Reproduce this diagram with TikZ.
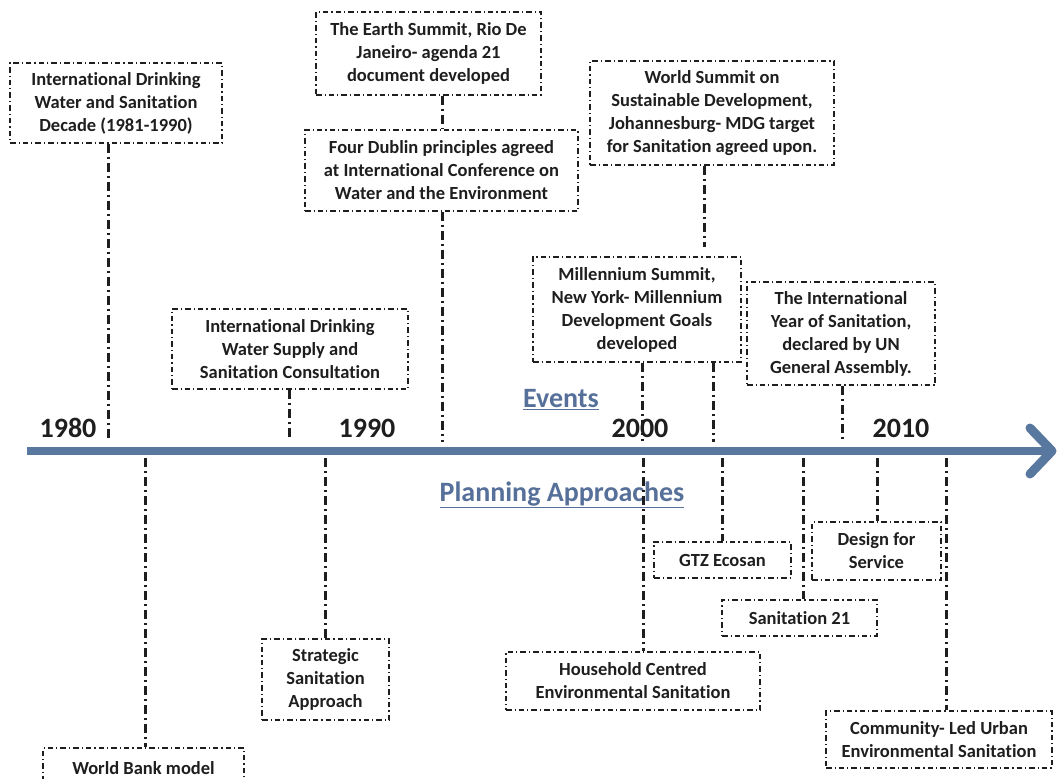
\documentclass[tikz,border=0pt]{standalone}
\usepackage{fontspec}
\setmainfont{Carlito}[RawFeature={-liga;-clig;-calt;-dlig}]
\definecolor{axisblue}{HTML}{5878A0}
\definecolor{headblue}{HTML}{56709A}
\definecolor{txt}{HTML}{1E1E1E}
\begin{document}
\begin{tikzpicture}[x=1pt,y=-1pt,
  box/.style={draw=txt, line width=1.1pt, dash pattern=on 5.5pt off 3pt on 1.2pt off 3pt,
    align=center, inner sep=0pt, text=txt, font=\bfseries\fontsize{18.5}{23}\selectfont},
  conn/.style={draw=txt, line width=3pt, dash pattern=on 9pt off 4pt on 2pt off 4pt},
  year/.style={text=txt, font=\bfseries\fontsize{28}{30}\selectfont, inner sep=0pt},
  head/.style={text=headblue, font=\bfseries\fontsize{28}{30}\selectfont, inner sep=0pt}]
\useasboundingbox (0,0) rectangle (1058,779);
\clip (0,0) rectangle (1058,779);
\fill[white] (0,0) rectangle (1058,779);

% axis
\coordinate (axL) at (27,451);
\coordinate (axR) at (1046,451);
\coordinate (tipU) at (1030,428);
\coordinate (tip) at (1052,451);
\coordinate (tipD) at (1030,474);
\draw[axisblue, line width=8pt] (axL) -- (axR);
\draw[axisblue, line width=9pt, line cap=round, line join=round] (tipU) -- (tip) -- (tipD);

% years
\node[year] (y1980) at (68,428) {1980};
\node[year] (y1990) at (367,428) {1990};
\node[year] (y2000) at (640,428) {2000};
\node[year] (y2010) at (901,428) {2010};
\node[head] (events) at (561,400) {\underline{Events}};
\node[head] (plan) at (562,495) {\underline{Planning Approaches}};

% event boxes
\node[box, minimum width=212pt, minimum height=80pt] (decade) at (116,103)
  {International Drinking\\Water and Sanitation\\Decade (1981-1990)};
\node[box, minimum width=225pt, minimum height=83pt] (earth) at (428.5,53.5)
  {The Earth Summit, Rio De\\Janeiro- agenda 21\\document developed};
\node[box, minimum width=273pt, minimum height=81pt] (dublin) at (441.5,170.5)
  {Four Dublin principles agreed\\at International Conference on\\Water and the Environment};
\node[box, minimum width=244pt, minimum height=104pt] (wssd) at (712,113)
  {World Summit on\\Sustainable Development,\\Johannesburg- MDG target\\for Sanitation agreed upon.};
\node[box, minimum width=208pt, minimum height=105pt] (mill) at (637,309.5)
  {Millennium Summit,\\New York- Millennium\\Development Goals\\developed};
\node[box, minimum width=188pt, minimum height=103pt] (iys) at (841,333.5)
  {The International\\Year of Sanitation,\\declared by UN\\General Assembly.};
\node[box, minimum width=236pt, minimum height=80pt] (idwssc) at (290,349)
  {International Drinking\\Water Supply and\\Sanitation Consultation};

% planning boxes
\node[box, minimum width=201pt, minimum height=40pt] (wb) at (143.5,768)
  {World Bank model};
\node[box, minimum width=127pt, minimum height=81pt] (ssa) at (325.5,679.5)
  {Strategic\\Sanitation\\Approach};
\node[box, minimum width=254pt, minimum height=58pt] (hces) at (633,681)
  {Household Centred\\Environmental Sanitation};
\node[box, minimum width=137pt, minimum height=36pt] (gtz) at (722.5,560)
  {GTZ Ecosan};
\node[box, minimum width=129pt, minimum height=58pt] (dfs) at (876.5,551)
  {Design for\\Service};
\node[box, minimum width=155pt, minimum height=36pt] (s21) at (799.5,618)
  {Sanitation 21};
\node[box, minimum width=226pt, minimum height=57pt] (clues) at (939,739.5)
  {Community- Led Urban\\Environmental Sanitation};

% connector anchors on the axis (above)
\coordinate (a1) at (108,441);
\coordinate (a2) at (289,440);
\coordinate (a3) at (442,442);
\coordinate (a4) at (642,441);
\coordinate (a5) at (713,442);
\coordinate (a6) at (842,441);
\coordinate (wsEnd) at (704,247);
% connector anchors on the axis (below)
\coordinate (b1) at (145,458);
\coordinate (b2) at (325,458);
\coordinate (b3) at (643,458);
\coordinate (b4) at (722,458);
\coordinate (b5) at (803,458);
\coordinate (b6) at (877,458);
\coordinate (b7) at (946,458);

% connectors above axis
\draw[conn] (a1 |- decade.south) -- (a1);
\draw[conn] (a3 |- earth.south) -- (a3 |- dublin.north);
\draw[conn] (a3 |- dublin.south) -- (a3);
\draw[conn] (wsEnd |- wssd.south) -- (wsEnd);
\draw[conn] (a4 |- mill.south) -- (a4);
\draw[conn] (a5 |- mill.south) -- (a5);
\draw[conn] (a6 |- iys.south) -- (a6);
\draw[conn] (a2 |- idwssc.south) -- (a2);

% connectors below axis
\draw[conn] (b1) -- (b1 |- wb.north);
\draw[conn] (b2) -- (b2 |- ssa.north);
\draw[conn] (b3) -- (b3 |- hces.north);
\draw[conn] (b4) -- (b4 |- gtz.north);
\draw[conn] (b5) -- (b5 |- s21.north);
\draw[conn] (b6) -- (b6 |- dfs.north);
\draw[conn] (b7) -- (b7 |- clues.north);
\end{tikzpicture}
\end{document}
